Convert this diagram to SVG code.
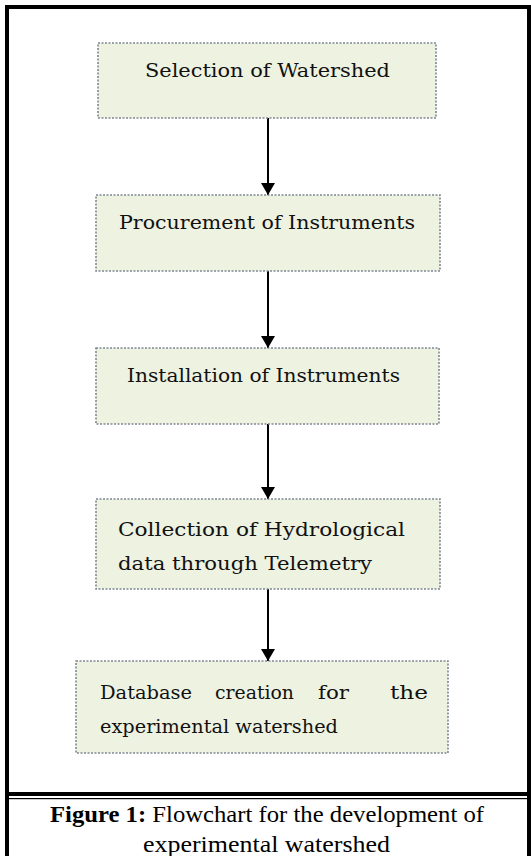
<svg xmlns="http://www.w3.org/2000/svg" width="531" height="856" viewBox="0 0 531 856">
<style>
.box{fill:#eef2e1;stroke:#7f8894;stroke-width:1.6;stroke-dasharray:2 1.5}
.t{font-family:"DejaVu Serif","Liberation Serif",serif;font-size:19px;fill:#111}
.cap{font-family:"Liberation Serif","Times New Roman",serif;font-size:24px;fill:#000}
.arr{stroke:#000;stroke-width:2;fill:none}
</style>
<defs>
<marker id="ah" markerWidth="12" markerHeight="14" refX="12" refY="7" orient="auto" markerUnits="userSpaceOnUse" viewBox="0 0 12 14">
<path d="M0,0 L12,7 L0,14 Z" fill="#000"/>
</marker>
</defs>
<rect x="0" y="0" width="531" height="856" fill="#fff"/>
<g id="frame" fill="#000">
<rect x="5" y="5" width="526" height="4"/>
<rect x="5" y="5" width="4" height="851"/>
<rect x="527" y="5" width="4" height="851"/>
<rect x="5" y="792" width="526" height="4"/>
<rect x="5" y="798" width="526" height="1.2"/>
</g>
<g id="connectors">
<line class="arr" x1="268" y1="118" x2="268" y2="195" marker-end="url(#ah)"/>
<line class="arr" x1="268" y1="271" x2="268" y2="348" marker-end="url(#ah)"/>
<line class="arr" x1="268" y1="424" x2="268" y2="499" marker-end="url(#ah)"/>
<line class="arr" x1="268" y1="589" x2="268" y2="661" marker-end="url(#ah)"/>
</g>
<g id="n1">
<rect class="box" x="98" y="43" width="338" height="75"/>
<text class="t" x="145" y="77" textLength="245" lengthAdjust="spacingAndGlyphs">Selection of Watershed</text>
</g>
<g id="n2">
<rect class="box" x="96" y="195" width="344" height="76"/>
<text class="t" x="119" y="229" textLength="296" lengthAdjust="spacingAndGlyphs">Procurement of Instruments</text>
</g>
<g id="n3">
<rect class="box" x="96" y="348" width="343" height="76"/>
<text class="t" x="127" y="382" textLength="273" lengthAdjust="spacingAndGlyphs">Installation of Instruments</text>
</g>
<g id="n4">
<rect class="box" x="96" y="499" width="344" height="90"/>
<text class="t" x="118" y="536" textLength="287" lengthAdjust="spacingAndGlyphs">Collection of Hydrological</text>
<text class="t" x="118" y="570" textLength="254" lengthAdjust="spacingAndGlyphs">data through Telemetry</text>
</g>
<g id="n5">
<rect class="box" x="76" y="661" width="372" height="92"/>
<text class="t" x="100" y="699" textLength="92" lengthAdjust="spacingAndGlyphs">Database</text>
<text class="t" x="215" y="699" textLength="79" lengthAdjust="spacingAndGlyphs">creation</text>
<text class="t" x="318" y="699" textLength="31" lengthAdjust="spacingAndGlyphs">for</text>
<text class="t" x="390" y="699" textLength="38" lengthAdjust="spacingAndGlyphs">the</text>
<text class="t" x="100" y="733" textLength="238" lengthAdjust="spacingAndGlyphs">experimental watershed</text>
</g>
<g id="caption">
<text class="cap" x="50" y="822" textLength="434" lengthAdjust="spacingAndGlyphs"><tspan font-weight="bold">Figure 1:</tspan> Flowchart for the development of</text>
<text class="cap" x="143" y="852" textLength="247" lengthAdjust="spacingAndGlyphs">experimental watershed</text>
</g>
</svg>
